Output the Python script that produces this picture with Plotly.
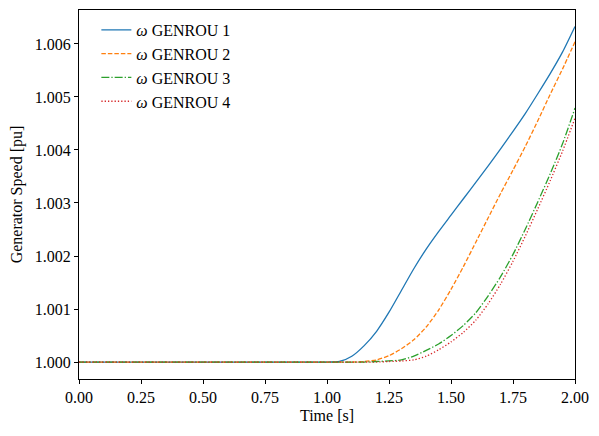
import plotly.graph_objects as go

time_s = [0.0, 0.5, 1.0, 1.05, 1.1, 1.15, 1.2, 1.25, 1.3, 1.35, 1.4, 1.45, 1.5,
          1.55, 1.6, 1.65, 1.7, 1.75, 1.8, 1.85, 1.9, 1.95, 2.0]

omega_1 = [1.0, 1.0, 1.0, 1.00001, 1.00011, 1.00031, 1.00058, 1.00094, 1.00135, 1.00176,
           1.00213, 1.00246, 1.00277, 1.00308, 1.00339, 1.00370, 1.00402, 1.00435,
           1.00469, 1.00506, 1.00544, 1.00585, 1.00633]
omega_2 = [1.0, 1.0, 1.0, 1.0, 1.0, 1.00001, 1.00004, 1.00012, 1.00025, 1.00042,
           1.00066, 1.00098, 1.00137, 1.00180, 1.00226, 1.00272, 1.00318, 1.00362,
           1.00407, 1.00455, 1.00505, 1.00553, 1.00604]
omega_3 = [1.0, 1.0, 1.0, 1.0, 1.0, 1.0, 1.00001, 1.00002, 1.00004, 1.00011,
           1.00022, 1.00034, 1.00050, 1.00069, 1.00093, 1.00125, 1.00161, 1.00203,
           1.00251, 1.00302, 1.00355, 1.00412, 1.00479]
omega_4 = [1.0, 1.0, 1.0, 1.0, 1.0, 1.0, 1.0, 1.00001, 1.00002, 1.00004,
           1.00011, 1.00023, 1.00038, 1.00056, 1.00079, 1.00110, 1.00147, 1.00190,
           1.00238, 1.00289, 1.00342, 1.00398, 1.00460]

series = [
    ("<i>ω</i> GENROU 1", omega_1, "#1f77b4", "solid"),
    ("<i>ω</i> GENROU 2", omega_2, "#ff7f0e", "4.5px,2px"),
    ("<i>ω</i> GENROU 3", omega_3, "#2ca02c", "8px,2px,1.3px,2px"),
    ("<i>ω</i> GENROU 4", omega_4, "#d62728", "1.3px,2px"),
]

x_ticks = [0.0, 0.25, 0.5, 0.75, 1.0, 1.25, 1.5, 1.75, 2.0]
y_ticks = [1.000, 1.001, 1.002, 1.003, 1.004, 1.005, 1.006]

FONT = "Liberation Serif"
FS = 16

fig = go.Figure()
for name, vals, color, dash in series:
    fig.add_trace(go.Scatter(
        x=time_s, y=vals, name=name, mode="lines",
        line=dict(color=color, width=1.3, dash=dash, shape="spline", smoothing=0.6),
    ))

axis_common = dict(
    showgrid=False, zeroline=False, showline=True, mirror=True,
    linecolor="black", linewidth=1, ticks="outside", ticklen=4,
    tickcolor="black", tickwidth=1, tickfont=dict(family=FONT, size=FS, color="black"),
)

fig.update_layout(
    width=591, height=428,
    margin=dict(l=71, r=24, t=2, b=57, autoexpand=False),
    paper_bgcolor="white", plot_bgcolor="white",
    font=dict(family=FONT, size=FS, color="black"),
    showlegend=True,
    legend=dict(x=0.035, y=0.992, xanchor="left", yanchor="top",
                bgcolor="rgba(0,0,0,0)", borderwidth=0,
                font=dict(family=FONT, size=FS, color="black"),
                tracegroupgap=0),
    xaxis=dict(range=[0, 2], tickvals=x_ticks, tickformat=".2f",
               title=dict(text="Time [s]", font=dict(family=FONT, size=FS), standoff=4),
               **axis_common),
    yaxis=dict(range=[0.99968, 1.00664], tickvals=y_ticks, tickformat=".3f",
               title=dict(text="Generator Speed [pu]", font=dict(family=FONT, size=FS), standoff=10),
               **axis_common),
)

fig.write_html("out.html")
